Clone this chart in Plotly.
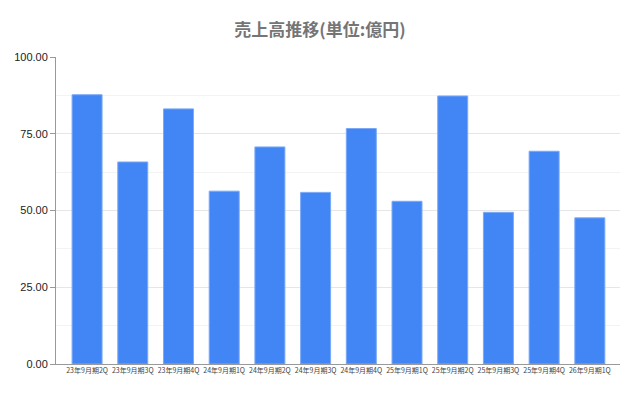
import plotly.graph_objects as go

categories = ["23年9月期2Q", "23年9月期3Q", "23年9月期4Q", "24年9月期1Q", "24年9月期2Q", "24年9月期3Q",
              "24年9月期4Q", "25年9月期1Q", "25年9月期2Q", "25年9月期3Q", "25年9月期4Q", "26年9月期1Q"]
sales = [87.7, 65.8, 83.1, 56.3, 70.7, 55.9, 76.7, 53.0, 87.3, 49.4, 69.3, 47.6]
y_ticks = [0, 25, 50, 75, 100]
y_tick_labels = ["0.00", "25.00", "50.00", "75.00", "100.00"]

fig = go.Figure(go.Bar(
    x=categories, y=sales,
    marker=dict(color="#4285F4", line=dict(color="#7aa9f8", width=1)),
))

fig.update_layout(
    width=640, height=395,
    margin=dict(l=56, r=20, t=57, b=31),
    paper_bgcolor="white", plot_bgcolor="white",
    bargap=0.344,
    showlegend=False,
    title=dict(text="売上高推移(単位:億円)", x=0.5, xanchor="center", y=0.925, yanchor="middle",
               font=dict(family="Noto Sans CJK JP", size=17, color="#757575", weight="bold")),
    font=dict(family="Liberation Sans, Arial", color="#222222"),
)
fig.update_yaxes(
    range=[0, 100], tickvals=y_ticks, ticktext=y_tick_labels,
    tickfont=dict(size=11, color="#222222"),
    showgrid=True, gridcolor="#e6e6e6", gridwidth=1,
    minor=dict(dtick=12.5, tick0=0, showgrid=True, gridcolor="#f3f3f3", ticks=""),
    ticks="outside", ticklen=5, tickcolor="#999999",
    showline=True, linecolor="#999999", linewidth=1,
    zeroline=False, fixedrange=True,
)
fig.update_xaxes(
    range=[-0.68, 11.66],
    tickfont=dict(size=7, family="Noto Sans CJK JP", color="#444444"),
    showline=True, linecolor="#999999", linewidth=1,
    ticks="", tickangle=0, showgrid=False,
)

fig.write_html("out.html")
